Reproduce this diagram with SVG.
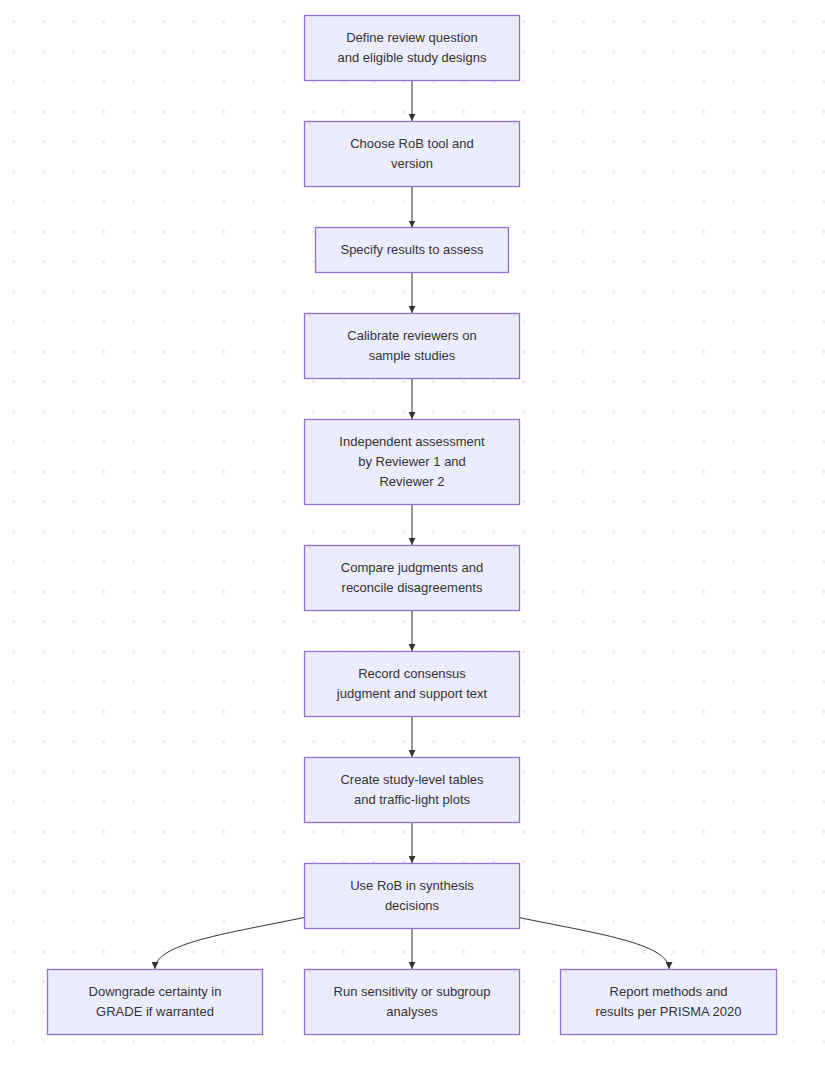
<svg xmlns="http://www.w3.org/2000/svg" width="825" height="1070" viewBox="0 0 825 1070">
<style>
.node rect{fill:#ECECFF;stroke:#9370DB;stroke-width:1.3}
.node text{font-family:"Liberation Sans",Arial,sans-serif;font-size:13px;fill:#333;text-anchor:middle}
.edge{fill:none;stroke:#333;stroke-width:1;marker-end:url(#arrow)}
</style>
<defs>
<pattern id="dots" patternUnits="userSpaceOnUse" x="-1.3" y="6.7" width="30" height="30">
<circle cx="15" cy="15" r="1.6" fill="#e8e8e8"/>
</pattern>
<marker id="arrow" viewBox="0 0 10 10" refX="10" refY="5" markerUnits="userSpaceOnUse" markerWidth="7" markerHeight="7" orient="auto">
<path d="M0,0 L10,5 L0,10 z" fill="#333"/>
</marker>
</defs>
<rect width="825" height="1070" fill="#ffffff"/>
<rect width="825" height="1060" fill="url(#dots)"/>

<g id="connectors">
<path class="edge" d="M412,80.5 L412,121"/>
<path class="edge" d="M412,186.5 L412,227.5"/>
<path class="edge" d="M412,272.5 L412,313"/>
<path class="edge" d="M412,378.5 L412,419"/>
<path class="edge" d="M412,504.5 L412,545"/>
<path class="edge" d="M412,610.5 L412,651"/>
<path class="edge" d="M412,716.5 L412,757"/>
<path class="edge" d="M412,822.5 L412,863"/>
<path class="edge" d="M412,928.5 L412,969"/>
<path class="edge" d="M304,917.5 C230,933 155,943 155,969"/>
<path class="edge" d="M519,917.5 C593,933 669,943 669,969"/>
</g>

<g id="n1" class="node"><rect x="304.5" y="15.5" width="215" height="65"/>
<text x="412" y="41.7">Define review question</text><text x="412" y="61.7">and eligible study designs</text></g>

<g id="n2" class="node"><rect x="304.5" y="121.5" width="215" height="65"/>
<text x="412" y="147.7">Choose RoB tool and</text><text x="412" y="167.7">version</text></g>

<g id="n3" class="node"><rect x="315.5" y="227.5" width="193" height="45"/>
<text x="412" y="254.2">Specify results to assess</text></g>

<g id="n4" class="node"><rect x="304.5" y="313.5" width="215" height="65"/>
<text x="412" y="339.7">Calibrate reviewers on</text><text x="412" y="359.7">sample studies</text></g>

<g id="n5" class="node"><rect x="304.5" y="419.5" width="215" height="85"/>
<text x="412" y="445.7">Independent assessment</text><text x="412" y="465.7">by Reviewer 1 and</text><text x="412" y="485.7">Reviewer 2</text></g>

<g id="n6" class="node"><rect x="304.5" y="545.5" width="215" height="65"/>
<text x="412" y="571.7">Compare judgments and</text><text x="412" y="591.7">reconcile disagreements</text></g>

<g id="n7" class="node"><rect x="304.5" y="651.5" width="215" height="65"/>
<text x="412" y="677.7">Record consensus</text><text x="412" y="697.7">judgment and support text</text></g>

<g id="n8" class="node"><rect x="304.5" y="757.5" width="215" height="65"/>
<text x="412" y="783.7">Create study-level tables</text><text x="412" y="803.7">and traffic-light plots</text></g>

<g id="n9" class="node"><rect x="304.5" y="863.5" width="215" height="65"/>
<text x="412" y="889.7">Use RoB in synthesis</text><text x="412" y="909.7">decisions</text></g>

<g id="n10" class="node"><rect x="47.5" y="969.5" width="215" height="65"/>
<text x="155" y="995.7">Downgrade certainty in</text><text x="155" y="1015.7">GRADE if warranted</text></g>

<g id="n11" class="node"><rect x="304.5" y="969.5" width="215" height="65"/>
<text x="412" y="995.7">Run sensitivity or subgroup</text><text x="412" y="1015.7">analyses</text></g>

<g id="n12" class="node"><rect x="560.5" y="969.5" width="216" height="65"/>
<text x="668.5" y="995.7">Report methods and</text><text x="668.5" y="1015.7">results per PRISMA 2020</text></g>
</svg>
